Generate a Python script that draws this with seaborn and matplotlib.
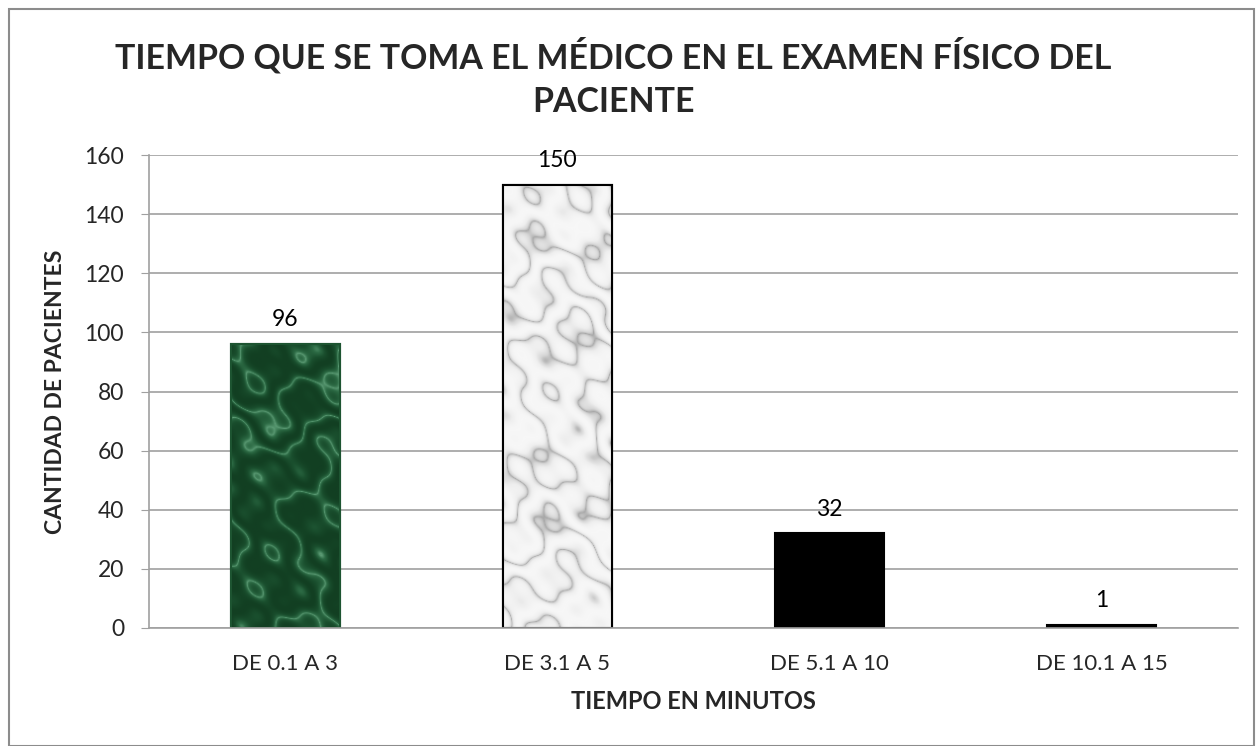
import matplotlib
matplotlib.use("Agg")
import matplotlib.pyplot as plt
import seaborn as sns
import pandas as pd
import numpy as np
from matplotlib.patches import Rectangle
from matplotlib.colors import LinearSegmentedColormap

# --- Data ---
categorias = ["DE 0.1 A 3", "DE 3.1 A 5", "DE 5.1 A 10", "DE 10.1 A 15"]
pacientes = [96, 150, 32, 1]
colores = ["#1d5431", "#ececec", "#000000", "#000000"]
bordes = ["#1d5431", "#000000", "#000000", "#000000"]

df = pd.DataFrame({"tiempo": categorias, "pacientes": pacientes})

sns.set_style("white")
plt.rcParams["font.family"] = ["Lato", "DejaVu Sans"]

fig = plt.figure(figsize=(12.59, 7.46), dpi=100)
ax = fig.add_axes([149 / 1259, 1 - 628 / 746, (1238 - 149) / 1259, (628 - 155) / 746])

sns.barplot(data=df, x="tiempo", y="pacientes", hue="tiempo", palette=colores,
            width=0.4, legend=False, ax=ax, saturation=1)

for patch, ec in zip(ax.patches, bordes):
    patch.set_edgecolor(ec)
    patch.set_linewidth(1.5)


# --- marble-like fill for the first two bars (deterministic pattern) ---
def marble(h, w, shift):
    yy, xx = np.mgrid[0:h, 0:w] / 55.0
    turb = (np.sin(xx * 1.9 + shift) + np.sin(yy * 1.3 + 2 * shift)
            + 0.6 * np.sin(xx * 4.1 + yy * 2.7 + shift)
            + 0.4 * np.sin(yy * 5.9 - xx * 3.3 + 3 * shift)
            + 0.2 * np.sin(xx * 11.0 + yy * 9.0))
    v = np.abs(np.sin(xx * 0.9 + yy * 1.6 + 2.0 * turb))
    return v ** 0.6


cmaps = [
    LinearSegmentedColormap.from_list("verde", ["#5f9f78", "#2c6a44", "#1a4f2e", "#123f22"]),
    LinearSegmentedColormap.from_list("blanco", ["#a3a3a3", "#d6d6d6", "#eeeeee", "#f7f7f7"]),
]
for patch, cmap, s in zip(ax.patches[:2], cmaps, [0.7, 2.3]):
    x0, y0 = patch.get_x(), patch.get_y()
    w, h = patch.get_width(), patch.get_height()
    img = marble(int(h * 3), 110, s)
    im = ax.imshow(img, extent=[x0, x0 + w, y0, y0 + h], aspect="auto", cmap=cmap,
                   origin="lower", zorder=patch.get_zorder() + 0.1, interpolation="bilinear")
    im.set_clip_path(patch)
    border = Rectangle((x0, y0), w, h, fill=False, edgecolor=patch.get_edgecolor(),
                       linewidth=1.5, zorder=patch.get_zorder() + 0.2)
    ax.add_patch(border)

for cont in ax.containers:
    ax.bar_label(cont, padding=10, fontsize=16.5, color="#000000")

ax.set_ylim(0, 160)
ax.set_xlim(-0.5, 3.5)
ax.set_yticks(range(0, 161, 20))
ax.yaxis.grid(True, color="#a0a0a0", linewidth=1.2)
ax.set_axisbelow(True)
sns.despine(ax=ax, top=True, right=True)
ax.spines["left"].set_color("#a0a0a0")
ax.spines["bottom"].set_color("#a0a0a0")
ax.spines["left"].set_linewidth(1.2)
ax.spines["bottom"].set_linewidth(1.2)
ax.tick_params(axis="y", which="major", left=True, length=6, color="#a0a0a0",
               labelsize=16.5, pad=12)
ax.tick_params(axis="x", bottom=False, labelsize=16, pad=15)

ax.set_xlabel("TIEMPO EN MINUTOS", fontsize=17, fontweight="bold", labelpad=12)
ax.set_ylabel("CANTIDAD DE PACIENTES", fontsize=16.5, fontweight="bold", labelpad=13)

fig.text(0.487, 1 - 78 / 746, "TIEMPO QUE SE TOMA EL MÉDICO EN EL EXAMEN FÍSICO DEL\nPACIENTE",
         ha="center", va="center", fontsize=24.4, fontweight="bold", linespacing=1.45)

# Chart area border
fig.patches.append(Rectangle((9 / 1259, 0), (1254 - 9) / 1259, 1 - 9 / 746,
                             transform=fig.transFigure, fill=False,
                             edgecolor="#8c8c8c", linewidth=1.5))

fig.savefig("out.png", dpi=100)
